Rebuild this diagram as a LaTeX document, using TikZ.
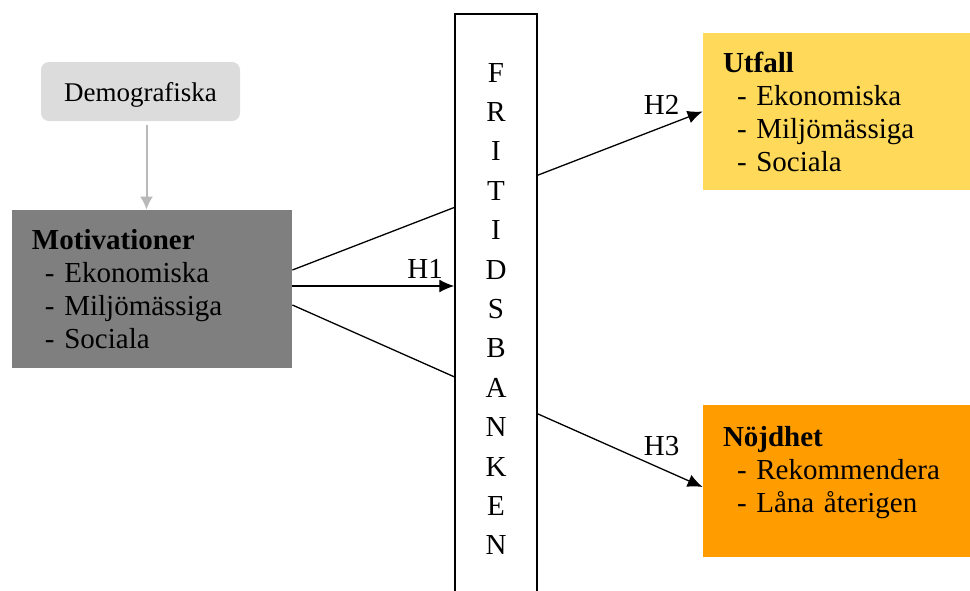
\documentclass[tikz,border=0pt]{standalone}
\usepackage{fontspec}
\setmainfont{Liberation Serif}
\usetikzlibrary{arrows.meta}
\definecolor{demogray}{RGB}{220,220,220}
\definecolor{motgray}{RGB}{127,127,127}
\definecolor{utfallyellow}{RGB}{255,217,90}
\definecolor{nojdorange}{RGB}{255,157,0}
\begin{document}
\begin{tikzpicture}[x=0.5pt, y=-0.5pt]
 \tikzset{every node/.style={font=\fontsize{14.5}{16.5}\selectfont},
          box/.style={inner xsep=10pt, align=left},
          hyp/.style={->, >={Latex[length=7.5pt,width=6.5pt]}, line width=0.65pt}}
  \useasboundingbox (0,0) rectangle (970,590);
  \node[fill=demogray, rounded corners=4pt, minimum width=99.5pt, minimum height=29.5pt, font=\fontsize{13.5}{16}\selectfont] (Demografiska) at (140.5,91.5) {\raisebox{-4.75pt}[0pt][0pt]{Demografiska}};
  \node[box, fill=motgray, text width=120pt, minimum height=79pt] (Motivation) at (152,289)
    {\textbf{Motivationer}\\ \hspace*{6.5pt}- Ekonomiska\\ \hspace*{6.5pt}- Miljömässiga\\ \hspace*{6.5pt}- Sociala};
  \node[box, fill=utfallyellow, text width=113.5pt, minimum height=78.5pt] (Utfall) at (836.5,111.5)
    {\textbf{Utfall}\\ \hspace*{7pt}- Ekonomiska\\ \hspace*{7pt}- Miljömässiga\\ \hspace*{7pt}- Sociala};
  \node[box, fill=nojdorange, text width=113.5pt, minimum height=76pt] (Nojdhet) at (836.5,481)
    {\textbf{Nöjdhet}\\ \hspace*{7pt}- Rekommendera\\ \hspace*{7pt}- Låna återigen\rule[-11.5pt]{0pt}{0pt}};
  \draw[->, >={Latex[length=6.5pt,width=6.5pt]}, gray!55, line width=1pt] ([xshift=3pt,yshift=-2pt]Demografiska.south) -- ([xshift=3pt]Demografiska.south |- Motivation.north);
  \draw[hyp] ([yshift=9.5pt]Motivation.east) -- (Utfall.west) node[pos=0.9, above=3pt] {H2};
  \draw[hyp] ([yshift=-8pt]Motivation.east) -- ([yshift=-3pt]Nojdhet.west) node[pos=0.9, above=3pt] {H3};
  \node[draw, fill=white, line width=0.75pt, minimum width=41pt, minimum height=295pt, align=center, font=\fontsize{14.5}{19.7}\selectfont] (Fritidsbanken) at (496,309)
    {F\\R\\I\\T\\I\\D\\S\\B\\A\\N\\K\\E\\N};
  \draw[hyp] ([yshift=1.5pt]Motivation.east) -- ([yshift=1.5pt]Motivation.east -| Fritidsbanken.west) node[pos=0.82, above] {H1};
\end{tikzpicture}
\end{document}
